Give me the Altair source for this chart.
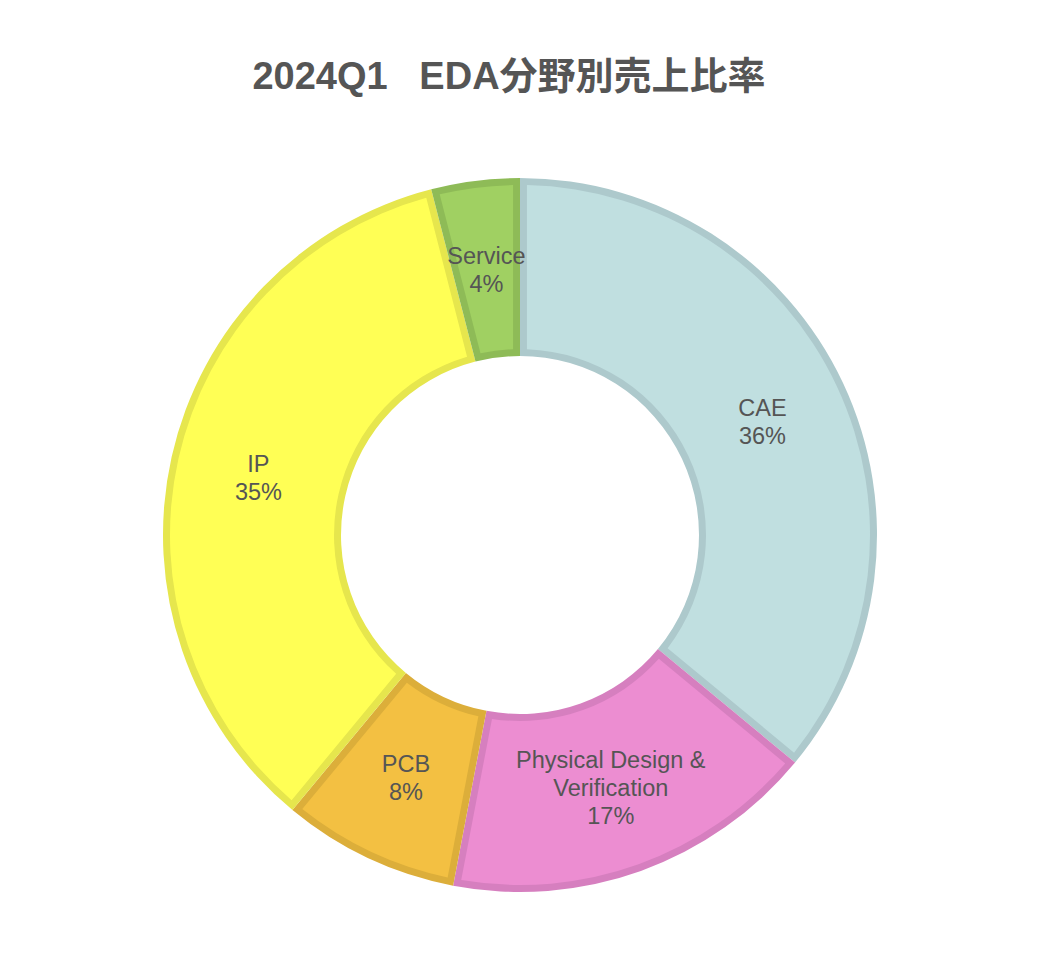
import altair as alt
import pandas as pd

categories = ["CAE", "Physical Design &\nVerification", "PCB", "IP", "Service"]
line_counts = [2, 3, 2, 2, 2]
values = [36, 17, 8, 35, 4]
pct_labels = ["36%", "17%", "8%", "35%", "4%"]
fill_colors = ["#c0dfe0", "#ec8dd1", "#f3c042", "#ffff55", "#a0d062"]
stroke_colors = ["#adc9cc", "#d67fbf", "#dcae3a", "#e6e64d", "#8ebb57"]

df = pd.DataFrame({
    "cat": categories,
    "value": values,
    "idx": list(range(len(categories))),
    "nlines": line_counts,
    "label": [c + "\n" + p for c, p in zip(categories, pct_labels)],
    "fill": fill_colors,
    "stroke": stroke_colors,
})
TOTAL = sum(values)

FONT = "Liberation Sans, Arial, Noto Sans CJK JP"
CX, CY = 512, 428
LH = 28
theta_scale = alt.Scale(domain=[0, TOTAL])

base = alt.Chart(df).encode(
    x=alt.value(CX),
    y=alt.value(CY),
)

arc_base = base.encode(
    theta=alt.Theta("value:Q", stack=True, scale=theta_scale),
    order=alt.Order("idx:Q"),
)
border = arc_base.mark_arc(radius=357, radius2=179).encode(
    color=alt.Color("stroke:N", scale=None)
)
inner = arc_base.mark_arc(radius=350, radius2=186, padAngle=0.035).encode(
    color=alt.Color("fill:N", scale=None)
)

text_base = base.transform_window(
    cum="sum(value)", sort=[alt.SortField("idx")]
).transform_calculate(
    mid="datum.cum - datum.value / 2"
).encode(
    theta=alt.Theta("mid:Q", stack=False, scale=theta_scale),
    text="label:N",
)


def label_layer(n):
    return text_base.transform_filter(alt.datum.nlines == n).mark_text(
        radius=268, fontSize=23.5, font=FONT, color="#555555",
        lineBreak="\n", lineHeight=LH, align="center", baseline="middle",
        dy=-(n - 1) * LH / 2 + 2,
    )


chart = alt.layer(border, inner, label_layer(2), label_layer(3)).properties(
    width=1024,
    height=800,
    padding={"top": 51, "left": 0, "right": 0, "bottom": 0},
    title=alt.TitleParams(
        "2024Q1\u00a0\u00a0\u00a0EDA分野別売上比率",
        fontSize=38, font=FONT, fontWeight="bold", color="#555555",
        anchor="middle", offset=10, dx=-11,
    ),
).configure_view(stroke=None)

chart.save("out.html", embed_options={"renderer": "svg", "actions": False})
